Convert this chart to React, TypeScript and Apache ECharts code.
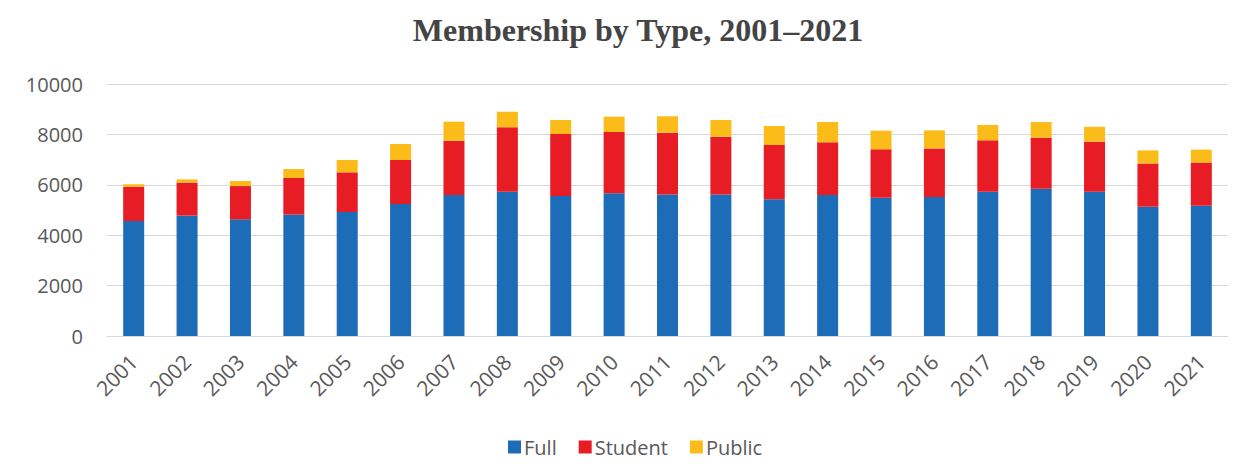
import React, { useEffect, useRef } from "react";
import * as echarts from "echarts";

const years = [
  "2001", "2002", "2003", "2004", "2005", "2006", "2007", "2008", "2009", "2010", "2011",
  "2012", "2013", "2014", "2015", "2016", "2017", "2018", "2019", "2020", "2021",
];
const full = [4560, 4775, 4630, 4815, 4920, 5240, 5595, 5725, 5555, 5660, 5620, 5620, 5425, 5595, 5490, 5515, 5725, 5845, 5725, 5130, 5170];
const student = [1365, 1310, 1320, 1455, 1575, 1745, 2155, 2555, 2460, 2435, 2450, 2290, 2155, 2090, 1920, 1930, 2040, 2025, 1985, 1720, 1710];
const publicM = [95, 130, 200, 355, 490, 635, 755, 620, 555, 610, 650, 660, 755, 805, 740, 715, 610, 620, 595, 515, 515];
const yTicks = { min: 0, max: 10000, interval: 2000 };

const SANS = "'Open Sans', 'Noto Sans', sans-serif";

export default function App() {
  const ref = useRef<HTMLDivElement>(null);
  useEffect(() => {
    document.body.style.margin = "0";
    const chart = echarts.init(ref.current!, null, { renderer: "svg" });
    chart.setOption({
      animation: false,
      backgroundColor: "#ffffff",
      title: {
        text: "Membership by Type, 2001–2021",
        left: 633,
        textAlign: "center",
        top: 9,
        textStyle: {
          fontFamily: "'Liberation Serif', serif",
          fontWeight: "bold",
          fontSize: 32,
          color: "#444444",
        },
      },
      legend: {
        left: 503,
        top: 432,
        icon: "rect",
        itemWidth: 13,
        itemHeight: 13,
        itemGap: 22,
        textStyle: { fontFamily: SANS, fontSize: 20, color: "#595959", padding: [0, 0, 0, -2] },
        data: ["Full", "Student", "Public"],
      },
      grid: { left: 107, right: 8, top: 84, bottom: 140, containLabel: false },
      xAxis: {
        type: "category",
        data: years,
        axisTick: { show: false },
        axisLine: { lineStyle: { color: "#d9d9d9", width: 1 } },
        axisLabel: {
          rotate: 45,
          fontFamily: SANS,
          fontSize: 21,
          color: "#595959",
          margin: 22,
        },
      },
      yAxis: {
        type: "value",
        min: yTicks.min,
        max: yTicks.max,
        interval: yTicks.interval,
        axisLine: { show: false },
        axisTick: { show: false },
        splitLine: { lineStyle: { color: "#d9d9d9", width: 1 } },
        axisLabel: {
          fontFamily: SANS,
          fontSize: 20,
          color: "#595959",
          margin: 24,
          formatter: (v: number) => String(v),
        },
      },
      series: [
        { name: "Full", type: "bar", stack: "m", data: full, barWidth: 21, itemStyle: { color: "#1c6cb8" } },
        { name: "Student", type: "bar", stack: "m", data: student, barWidth: 21, itemStyle: { color: "#e81c24" } },
        { name: "Public", type: "bar", stack: "m", data: publicM, barWidth: 21, itemStyle: { color: "#fbbc19" } },
      ],
    });
    return () => chart.dispose();
  }, []);
  return <div ref={ref} style={{ width: 1236, height: 476 }} />;
}
